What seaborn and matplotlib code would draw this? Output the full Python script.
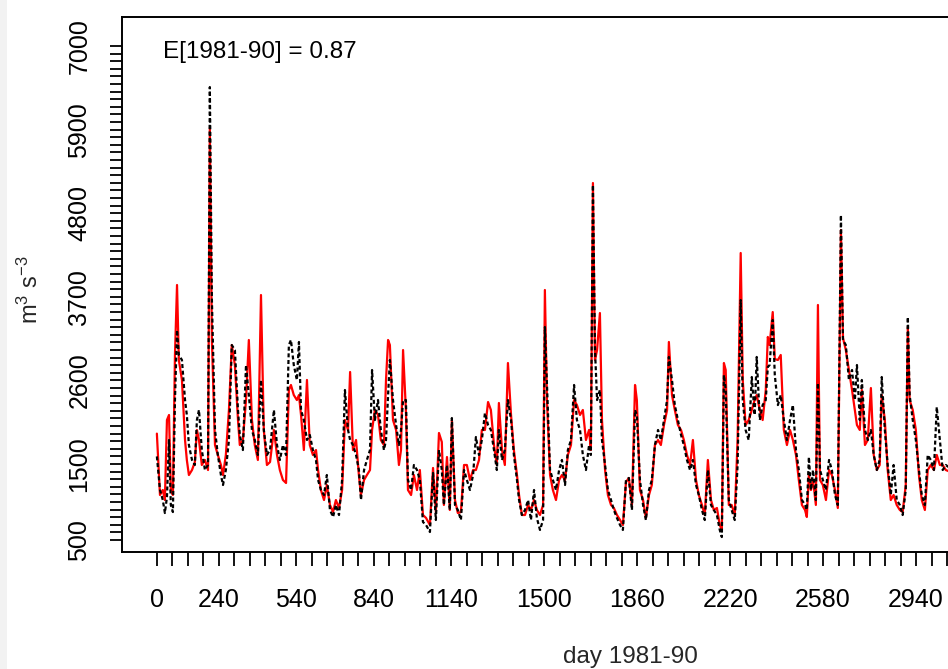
import matplotlib
matplotlib.use("Agg")
import matplotlib.pyplot as plt
from matplotlib.patches import Rectangle
import seaborn as sns
import pandas as pd
import numpy as np

# ---------------- data ----------------
days = [1, 13, 24, 32, 40, 48, 55, 63, 71, 79, 86, 98, 110, 117, 125, 137, 148, 156, 164, 175,
        187, 199, 206, 214, 226, 237, 249, 257, 268, 280, 291, 303, 315, 322, 334, 346, 357, 369, 380, 392,
        404, 415, 427, 439, 454, 466, 477,
        489, 501, 512, 520, 531, 543, 551, 559, 570, 582, 593, 605, 617, 625, 636, 648, 659, 671, 683, 694,
        706, 718, 729, 741, 749, 760, 772, 783, 791, 803, 814, 826, 834, 845, 857, 868, 880, 888, 896, 903,
        915, 927, 938, 946, 954, 965, 973, 985, 996,
        1008, 1019, 1031, 1043, 1058, 1070, 1081, 1093, 1104, 1112, 1124, 1135, 1143, 1155, 1166, 1178, 1190,
        1201, 1213, 1225, 1236, 1248, 1259, 1271, 1283, 1294, 1306, 1317, 1325, 1337, 1348, 1360, 1372, 1383,
        1395, 1403, 1414, 1426, 1438, 1449, 1461, 1472, 1484, 1496, 1503, 1511,
        1523, 1534, 1546, 1558, 1569, 1581, 1592, 1604, 1616, 1627, 1639, 1650, 1662, 1674, 1681, 1689, 1697,
        1705, 1716, 1724, 1736, 1747, 1759, 1770, 1782, 1794, 1805, 1817, 1828, 1840, 1852, 1859, 1871, 1883,
        1894, 1906, 1917, 1929, 1941, 1952, 1964, 1976, 1983, 1995,
        2006, 2018, 2030, 2041, 2053, 2065, 2076, 2088, 2099, 2111, 2122, 2134, 2146, 2157, 2169, 2180, 2188,
        2196, 2203, 2215, 2226, 2238, 2249, 2261, 2269, 2280, 2292, 2304, 2315, 2323, 2335, 2346, 2358, 2366,
        2373, 2385, 2393, 2405, 2416, 2428, 2440, 2452, 2463, 2475, 2486, 2498,
        2510, 2517, 2525, 2533, 2541, 2552, 2560, 2568, 2579, 2591, 2603, 2614, 2626, 2637, 2649, 2657, 2668,
        2680, 2692, 2703, 2711, 2722, 2730, 2742, 2753, 2765, 2776, 2788, 2799, 2807, 2819, 2830, 2842, 2853,
        2865, 2877, 2888, 2900, 2908, 2915, 2927, 2939, 2951, 2962, 2974, 2985, 2997, 3009, 3020, 3032, 3043,
        3055, 3070]

observed = [1600, 1158, 1026, 855, 1066, 1816, 961, 868, 2342, 3264, 2935, 2869, 2342, 2145, 1750, 1553, 1487, 2079, 2211, 1684,
            1421, 1487, 6461, 3658, 1948, 1619, 1355, 1224, 1421, 1816, 3066, 3000, 2211, 1882, 1684, 2803, 2408, 1948, 1816, 1619,
            2606, 1948, 1619, 1684, 2211, 1750, 1553,
            1750, 1619, 3066, 3132, 2803, 2606, 3106, 2211, 2079, 1816, 1882, 1684, 1553, 1290, 1158, 1092, 1355, 895, 803, 961,
            829, 1290, 2474, 1948, 1816, 1750, 1619, 1421, 1026, 1421, 1553, 1684, 2737, 2079, 2342, 1948, 1684, 1816, 2408, 2869,
            2342, 2013, 1750, 1948, 2342, 2342, 1290, 1158, 1487,
            1421, 1290, 737, 697, 605, 1382, 763, 1684, 1421, 961, 1487, 895, 2105, 961, 895, 763, 1421,
            1290, 1158, 1355, 1855, 1619, 1816, 2171, 2013, 1948, 1684, 1421, 1948, 1553, 1684, 2342, 2079, 1619,
            1290, 1026, 829, 895, 1026, 763, 1158, 790, 632, 763, 3303, 2566,
            1421, 1290, 1158, 1421, 1553, 1224, 1684, 1816, 2540, 2079, 1948, 1619, 1421, 1750, 1619, 5172, 3000,
            2342, 2474, 1816, 1487, 1158, 1026, 895, 790, 697, 632, 1290, 1316, 895, 2211, 2145, 1290, 961,
            763, 1158, 1290, 1750, 1948, 1816, 2079, 2342, 2909, 2606,
            2276, 2079, 1882, 1750, 1553, 1421, 1553, 1224, 1092, 895, 763, 1421, 961, 895, 829, 632, 539,
            2671, 2474, 1026, 895, 763, 1487, 3658, 2342, 1948, 1816, 2645, 2145, 2909, 2079, 2276, 2342, 2777,
            2803, 3395, 2671, 2276, 2408, 2079, 1816, 2079, 2276, 1684, 1421, 1026,
            961, 895, 1592, 1158, 1421, 1026, 2566, 1421, 1290, 1158, 1553, 1421, 1092, 961, 4777, 3132, 3066,
            2606, 2737, 2342, 2803, 2079, 2606, 1948, 1816, 1948, 1619, 1421, 1553, 2645, 1948, 1487, 1092, 1487,
            1026, 961, 829, 1158, 3435, 2408, 2079, 1816, 1421, 1092, 961, 1619, 1553, 1421, 2250, 1816, 1421,
            1487, 1450]

simulated = [1900, 1092, 1158, 1026, 2079, 2145, 1158, 1092, 2935, 3856, 2869, 2606, 1816, 1553, 1355, 1421, 1526, 1948, 1816, 1487,
             1553, 1421, 5922, 3132, 1750, 1619, 1487, 1355, 1619, 2211, 3066, 2803, 2079, 1750, 1816, 2342, 3132, 2079, 1750, 1553,
             3724, 1948, 1487, 1526, 1948, 1619, 1421,
             1290, 1250, 2474, 2540, 2408, 2342, 2408, 2145, 1684, 2606, 1750, 1619, 1684, 1421, 1158, 1026, 1224, 961, 868, 1026,
             921, 1158, 2079, 1948, 2711, 1684, 1816, 1355, 1092, 1290, 1355, 1421, 1948, 2211, 2145, 1816, 1750, 2606, 3132, 3066,
             2079, 1948, 1487, 1684, 3000, 2211, 1158, 1092, 1355,
             1158, 1421, 829, 790, 697, 1448, 868, 1908, 1790, 961, 1592, 895, 2079, 1026, 855, 868, 1487,
             1487, 1290, 1421, 1421, 1553, 1948, 1948, 2316, 2211, 1750, 1487, 2303, 1684, 1487, 2829, 2145, 1684,
             1355, 1092, 829, 829, 961, 895, 1026, 895, 829, 961, 3790, 2342,
             1355, 1158, 1026, 1290, 1355, 1290, 1619, 1750, 2342, 2276, 2145, 2211, 1816, 1948, 1684, 5198, 2869,
             3000, 3487, 2079, 1421, 1092, 961, 921, 829, 763, 697, 1263, 1316, 961, 2540, 2342, 1158, 1026,
             790, 1092, 1224, 1750, 1816, 1750, 2013, 2211, 3106, 2408,
             2211, 2013, 1948, 1816, 1619, 1487, 1816, 1290, 1092, 961, 829, 1553, 1026, 895, 921, 697, 632,
             2829, 2737, 961, 961, 829, 1816, 4277, 2606, 2013, 2079, 2211, 2342, 2408, 2211, 2079, 2474, 3172,
             3066, 3500, 2881, 2869, 2935, 1948, 1750, 1948, 1816, 1619, 1290, 961,
             895, 803, 1355, 1158, 1290, 961, 3593, 1290, 1224, 1026, 1421, 1355, 1158, 921, 4580, 3158, 3000,
             2737, 2474, 2211, 2013, 1948, 2474, 1750, 1816, 2500, 1619, 1421, 1487, 2408, 2079, 1421, 1026, 1092,
             961, 895, 868, 1224, 3303, 2342, 2211, 1948, 1355, 1026, 895, 1421, 1487, 1421, 1619, 1487, 1487,
             1421, 1400]

x_labels = [0, 240, 540, 840, 1140, 1500, 1860, 2220, 2580, 2940]
y_labels = [500, 1500, 2600, 3700, 4800, 5900, 7000]
annotation = "E[1981-90] = 0.87"
x_title = "day 1981-90"
y_title = r"m$^3$ s$^{-3}$"

# ---------------- styling ----------------
sns.set_style("ticks")
plt.rcParams["font.family"] = ["Liberation Sans", "DejaVu Sans"]
plt.rcParams["mathtext.fontset"] = "custom"
plt.rcParams["mathtext.rm"] = "Liberation Sans"
plt.rcParams["mathtext.it"] = "Liberation Sans"

W, H = 948, 669
fig = plt.figure(figsize=(W / 100, H / 100), dpi=100)
fig.patch.set_facecolor("white")
# axes box: left 122px, top 17px, bottom 552px; right edge lies beyond the crop
ax = fig.add_axes([122 / W, (H - 552) / H, (1138 - 122) / W, (552 - 17) / H])

df = pd.DataFrame({"day": days, "observed": observed, "simulated": simulated})
sns.lineplot(data=df, x="day", y="simulated", ax=ax, color="#ff0000", lw=1.6,
             estimator=None, sort=False)
sns.lineplot(data=df, x="day", y="observed", ax=ax, color="black", lw=1.6,
             linestyle=(0, (1.8, 1.2)), estimator=None, sort=False)

ax.set_xlim(-134, 3799)
ax.set_ylim(342, 7383)

xt = np.arange(0, 3661, 60)
ax.set_xticks(xt)
ax.set_xticklabels([str(v) if v in x_labels else "" for v in xt])
yt = np.arange(500, 7001, 100)
ax.set_yticks(yt)
ax.set_yticklabels([str(v) if v in y_labels else "" for v in yt])

ax.tick_params(axis="x", direction="out", length=10, width=1.3, colors="black",
               labelsize=18, pad=16)
ax.tick_params(axis="y", direction="out", length=9, width=1.3, colors="black",
               labelsize=18, pad=13, labelrotation=90)
for lab in ax.get_yticklabels():
    lab.set_va("center")

for s in ax.spines.values():
    s.set_visible(True)
    s.set_color("black")
    s.set_linewidth(1.4)

ax.set_xlabel(x_title, fontsize=17.5, va="center")
ax.xaxis.set_label_coords((630 - 122) / 1016, (552 - 657) / 535)
ax.set_ylabel(y_title, fontsize=17, va="center")
ax.yaxis.set_label_coords((30 - 122) / 1016, (552 - 290) / 535)

ax.text((163 - 122) / 1016, (552 - 52) / 535, annotation, transform=ax.transAxes,
        ha="left", va="center", fontsize=17.5, color="black")

# light screenshot border on the left
fig.patches.append(Rectangle((0, 0), 7 / W, 1, transform=fig.transFigure,
                             facecolor="#f2f2f2", edgecolor="none", zorder=-5))

fig.savefig("out.png", dpi=100)
